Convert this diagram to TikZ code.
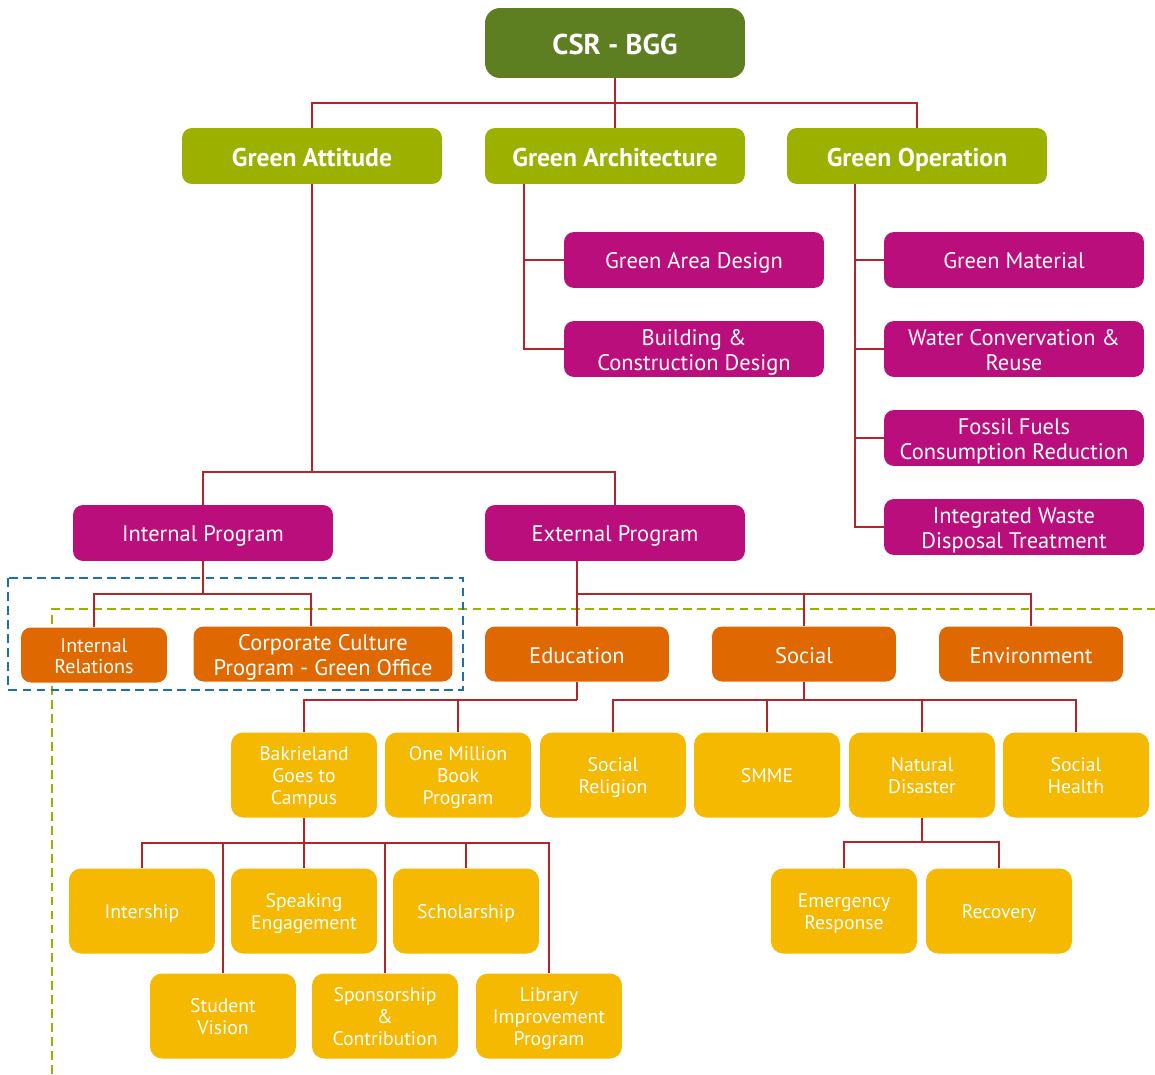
\documentclass[tikz,border=0pt]{standalone}
\usepackage{fontspec}
\setmainfont{PT Sans}
\usepackage{tikz}
\usetikzlibrary{positioning}
\definecolor{rootgreen}{HTML}{5E7E22}
\definecolor{leafgreen}{HTML}{9CB000}
\definecolor{magbox}{HTML}{BB0E7D}
\definecolor{orgbox}{HTML}{E06800}
\definecolor{yelbox}{HTML}{F4B900}
\definecolor{linkred}{HTML}{B3252B}
\definecolor{dashblue}{HTML}{1F6FB0}
\newcommand{\stack}[1]{\rule{0pt}{1.05em}#1\rule[-0.25em]{0pt}{0.25em}}
\tikzset{
  box/.style={rectangle, rounded corners=0.2cm, inner sep=0pt, text=white, align=center,
    execute at begin node={\rule{0pt}{1.05em}}, execute at end node={\rule[-0.25em]{0pt}{0.25em}}},
  rootbox/.style={box, fill=rootgreen, minimum width=5.2cm, minimum height=1.4cm, rounded corners=0.3cm,
    font=\fontsize{16.3}{18}\selectfont\bfseries},
  pillar/.style={box, fill=leafgreen, minimum width=5.2cm, minimum height=1.12cm,
    font=\fontsize{14.6}{16}\selectfont\bfseries},
  magitem/.style={box, fill=magbox, minimum width=5.2cm, minimum height=1.12cm,
    font=\fontsize{12.8}{14.2}\selectfont},
  orgitem/.style={box, fill=orgbox, minimum width=3.68cm, minimum height=1.1cm,
    font=\fontsize{12.8}{14.2}\selectfont},
  yelitem/.style={box, fill=yelbox, minimum width=2.92cm, minimum height=1.7cm, rounded corners=0.24cm,
    font=\fontsize{11.2}{12.5}\selectfont},
  link/.style={draw=linkred, line width=0.8pt},
  framedash/.style={line width=1.4pt, dash pattern=on 5pt off 3pt}
}
\begin{document}
\begin{tikzpicture}[x=0.02cm, y=-0.02cm]
\useasboundingbox (0,0) rectangle (1155,1074);

% dashed frames
\draw[framedash, leafgreen] (52,1074) |- (1155,609);
\draw[framedash, dashblue] (8,578) rectangle (463,690);

\node[rootbox] (root) at (615,43) {CSR - BGG};

\node[pillar] (gatt) at (312,156) {Green Attitude};
\node[pillar] (garch) at (615,156) {Green Architecture};
\node[pillar] (gop) at (917,156) {Green Operation};

\node[magitem] (gad) at (694,260) {Green Area Design};
\node[magitem] (bcd) at (694,349) {\stack{Building \&\\Construction Design}};

\node[magitem] (gm) at (1014,260) {Green Material};
\node[magitem] (wcr) at (1014,349) {\stack{Water Convervation \&\\Reuse}};
\node[magitem] (ffc) at (1014,438) {\stack{Fossil Fuels\\Consumption Reduction}};
\node[magitem] (iwd) at (1014,527) {\stack{Integrated Waste\\Disposal Treatment}};

\node[magitem] (ip) at (203,533) {Internal Program};
\node[magitem] (ep) at (615,533) {External Program};

\node[orgitem, minimum width=2.92cm, font=\fontsize{11.4}{12.5}\selectfont] (ir) at (94,655) {\stack{Internal\\Relations}};
\node[orgitem, minimum width=5.18cm] (cc) at (323,654) {\stack{Corporate Culture\\Program - Green Office}};
\node[orgitem] (edu) at (577,654) {Education};
\node[orgitem] (soc) at (804,654) {Social};
\node[orgitem] (env) at (1031,654) {Environment};

\node[yelitem] (bgc) at (304,775) {\stack{Bakrieland\\Goes to\\Campus}};
\node[yelitem] (omb) at (458,775) {\stack{One Million\\Book\\Program}};
\node[yelitem] (srel) at (613,775) {\stack{Social\\Religion}};
\node[yelitem] (smme) at (767,775) {SMME};
\node[yelitem] (nd) at (922,775) {\stack{Natural\\Disaster}};
\node[yelitem] (shl) at (1076,775) {\stack{Social\\Health}};

\node[yelitem] (intern) at (142,911) {Intership};
\node[yelitem] (spk) at (304,911) {\stack{Speaking\\Engagement}};
\node[yelitem] (schol) at (466,911) {Scholarship};
\node[yelitem] (sv) at (223,1016) {\stack{Student\\Vision}};
\node[yelitem] (spon) at (385,1016) {\stack{Sponsorship\\\&\\Contribution}};
\node[yelitem] (lib) at (549,1016) {\stack{Library\\Improvement\\Program}};

\node[yelitem] (er) at (844,911) {\stack{Emergency\\Response}};
\node[yelitem] (rec) at (999,911) {Recovery};

% bus points
\coordinate (rootbus) at (615,103);
\coordinate (archbus) at (524,184);
\coordinate (opbus) at (855,184);
\coordinate (attbus) at (312,472);
\coordinate (ipbus) at (203,594);
\coordinate (cctop) at (311,626);
\coordinate (epbus) at (577,594);
\coordinate (edubus) at (577,700);
\coordinate (socbus) at (804,700);
\coordinate (bgcbus) at (304,843);
\coordinate (ndbus) at (922,842);

% connectors
\draw[link] (root) -- (garch);
\draw[link] (gatt) |- (rootbus) -| (gop);

\draw[link] (gad.west) -| (archbus);
\draw[link] (bcd.west) -| (archbus);

\draw[link] (gm.west) -| (opbus);
\draw[link] (wcr.west) -| (opbus);
\draw[link] (ffc.west) -| (opbus);
\draw[link] (iwd.west) -| (opbus);

\draw[link] (gatt) -- (attbus);
\draw[link] (ip) |- (attbus) -| (ep);

\draw[link] (ip) -- (ipbus);
\draw[link] (ir) |- (ipbus) -| (cctop);

\draw[link] (edu.north |- ep.south) -- (edu);
\draw[link] (epbus) -| (soc);
\draw[link] (epbus) -| (env);

\draw[link] (edu) -- (edubus);
\draw[link] (bgc) |- (edubus);
\draw[link] (omb) -- (omb |- edubus);

\draw[link] (soc) -- (socbus);
\draw[link] (srel) |- (socbus) -| (shl);
\draw[link] (smme) -- (smme |- socbus);
\draw[link] (nd) -- (nd |- socbus);

\draw[link] (bgc) -- (spk);
\draw[link] (intern) |- (bgcbus) -| (lib);
\draw[link] (sv) -- (sv |- bgcbus);
\draw[link] (spon) -- (spon |- bgcbus);
\draw[link] (schol) -- (schol |- bgcbus);

\draw[link] (nd) -- (ndbus);
\draw[link] (er) |- (ndbus) -| (rec);
\end{tikzpicture}
\end{document}
